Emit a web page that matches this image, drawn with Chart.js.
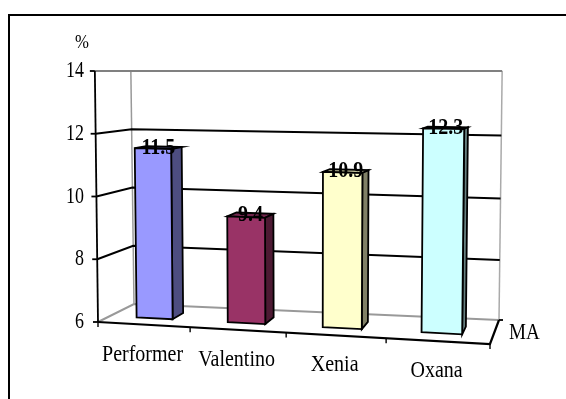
<!DOCTYPE html>
<html>
<head>
<meta charset="utf-8">
<title>MA</title>
<script src="https://cdn.jsdelivr.net/npm/chart.js@4"></script>
<style>
  html, body { margin: 0; padding: 0; background: #fff; }
  canvas { display: block; }
</style>
</head>
<body>
<canvas id="myChart" width="566" height="399"></canvas>
<script>
/***************** data *******************/
let categories = ['Performer', 'Valentino', 'Xenia', 'Oxana'];
let maValues = [11.5, 9.4, 10.9, 12.3];
let barColors = ['rgb(153, 153, 255)', 'rgb(153, 51, 102)', 'rgb(255, 255, 204)', 'rgb(204, 255, 255)'];
let sideColors = ['rgb(77, 77, 128)', 'rgb(77, 26, 51)', 'rgb(128, 128, 102)', 'rgb(102, 128, 128)'];
let topColors = ['rgb(115, 115, 191)', 'rgb(115, 38, 77)', 'rgb(191, 191, 153)', 'rgb(153, 191, 191)'];
let yMin = 6;
let yMax = 14;
let yStep = 2;
let yUnit = '%';
let depthLabel = 'MA';

/***************** 3d box the chart sits in *******************/
let floorFrontLeft = [98, 322];
let floorFrontRight = [490, 344];
let floorBackRight = [499, 320];
let floorBackLeft = [134, 304];
let ceilingY = 71;
let wallLean = 6.3;
let barFrontDepth = 1 / 3;
let barBackDepth = 2 / 3;

// turns a pixel of the flat chart area plus a depth (0 front, 1 back) into the 3d view
function project(area, px, py, depth) {
  let u0 = (px - area.left) / (area.right - area.left);
  let v0 = (area.bottom - py) / (area.bottom - area.top);
  let u = u0 - 0.08 * u0 * (1 - u0);
  let v = v0 - 0.05 * u * v0 * (1 - v0);

  let leftX = floorFrontLeft[0] + (floorBackLeft[0] - floorFrontLeft[0]) * depth;
  let leftY = floorFrontLeft[1] + (floorBackLeft[1] - floorFrontLeft[1]) * depth;
  let rightX = floorFrontRight[0] + (floorBackRight[0] - floorFrontRight[0]) * depth;
  let rightY = floorFrontRight[1] + (floorBackRight[1] - floorFrontRight[1]) * depth;

  let floorX = leftX + (rightX - leftX) * u;
  let floorY = leftY + (rightY - leftY) * u;
  return [floorX + (u - 0.5) * wallLean * v, floorY + (ceilingY - floorY) * v];
}

function line(ctx, points, color, width) {
  ctx.beginPath();
  points.forEach((p, i) => (i === 0 ? ctx.moveTo(p[0], p[1]) : ctx.lineTo(p[0], p[1])));
  ctx.strokeStyle = color;
  ctx.lineWidth = width;
  ctx.stroke();
}

function face(ctx, points, color) {
  ctx.beginPath();
  points.forEach((p, i) => (i === 0 ? ctx.moveTo(p[0], p[1]) : ctx.lineTo(p[0], p[1])));
  ctx.closePath();
  ctx.fillStyle = color;
  ctx.fill();
  ctx.strokeStyle = '#000';
  ctx.lineWidth = 1.8;
  ctx.stroke();
}

// the type in this chart is narrower than it is tall, so squeeze it sideways
function label(ctx, text, x, y, size, squeeze, align, bold) {
  ctx.save();
  ctx.translate(x, y);
  ctx.scale(squeeze, 1);
  ctx.font = (bold ? 'bold ' : '') + size + 'px "Liberation Serif"';
  ctx.textAlign = align;
  ctx.textBaseline = 'middle';
  ctx.fillStyle = '#000';
  ctx.fillText(text, 0, 0);
  ctx.restore();
}

/***************** box, bars and labels *******************/
let box3d = {
  id: 'box3d',
  beforeDatasetsDraw(chart) {
    let ctx = chart.ctx;
    let area = chart.chartArea;
    let xScale = chart.scales.x;
    let yScale = chart.scales.y;
    let meta = chart.getDatasetMeta(0);
    let at = (px, py, depth) => project(area, px, py, depth);

    ctx.save();
    ctx.lineJoin = 'miter';

    // outer frame, open on the right and at the bottom
    line(ctx, [[9, 399], [9, 15], [566, 15]], '#000', 2);

    // floor and back wall edges
    line(ctx, [at(area.left, area.bottom, 0), at(area.left, area.bottom, 1), at(area.right, area.bottom, 1)], '#999', 2);
    line(ctx, [at(area.left, area.bottom, 1), at(area.left, area.top, 1)], '#999', 1.5);
    line(ctx, [at(area.right, area.bottom, 1), at(area.right, area.top, 1)], '#aaa', 1.5);

    // gridlines run along the left wall then the back wall
    yScale.ticks.forEach(tick => {
      if (tick.value === yMin) return;
      let py = yScale.getPixelForValue(tick.value);
      let color = tick.value === yMax ? '#808080' : '#000';
      line(ctx, [at(area.left, py, 0), at(area.left, py, 1), at(area.right, py, 1)], color, 2);
    });

    // axes in front
    line(ctx, [at(area.left, area.bottom, 0), at(area.left, area.top, 0)], '#000', 1.8);
    line(ctx, [at(area.left, area.bottom, 0), at(area.right, area.bottom, 0), at(area.right, area.bottom, 1)], '#000', 2.2);

    yScale.ticks.forEach(tick => {
      let p = at(area.left, yScale.getPixelForValue(tick.value), 0);
      line(ctx, [p, [p[0] - 5, p[1]]], '#000', 1.8);
      label(ctx, String(tick.value), 84, p[1], 23, 0.78, 'right', false);
    });

    // ticks between the categories along the front edge
    let band = (area.right - area.left) / categories.length;
    for (let i = 0; i <= categories.length; i++) {
      let p = at(area.left + band * i, area.bottom, 0);
      line(ctx, [p, [p[0], p[1] + 5]], '#000', 1.4);
    }
    let backCorner = at(area.right, area.bottom, 1);
    line(ctx, [backCorner, [backCorner[0] + 4, backCorner[1]]], '#000', 1.8);

    meta.data.forEach((bar, i) => {
      let left = bar.x - bar.width / 2;
      let right = bar.x + bar.width / 2;
      face(ctx, [at(left, bar.y, barFrontDepth), at(left, bar.y, barBackDepth), at(right, bar.y, barBackDepth), at(right, bar.y, barFrontDepth)], topColors[i]);
      face(ctx, [at(right, bar.y, barFrontDepth), at(right, bar.y, barBackDepth), at(right, bar.base, barBackDepth), at(right, bar.base, barFrontDepth)], sideColors[i]);
      face(ctx, [at(left, bar.y, barFrontDepth), at(right, bar.y, barFrontDepth), at(right, bar.base, barFrontDepth), at(left, bar.base, barFrontDepth)], barColors[i]);
    });

    // value labels sit on the top of each bar
    meta.data.forEach((bar, i) => {
      let p = at(bar.x, bar.y, (barFrontDepth + barBackDepth) / 2);
      label(ctx, maValues[i].toFixed(1), p[0], p[1], 23, 0.87, 'center', true);
    });

    // category names follow the slope of the front edge
    categories.forEach((name, i) => {
      let p = at(xScale.getPixelForValue(i), area.bottom, 0);
      label(ctx, name, p[0] - 1, p[1] + 30, 23, 0.87, 'center', false);
    });

    label(ctx, depthLabel, 509, 333, 23, 0.83, 'left', false);
    label(ctx, yUnit, 82, 43, 19, 0.88, 'center', false);

    ctx.restore();
    return false;
  }
};

/***************** chart *******************/
let ctx = document.getElementById('myChart').getContext('2d');
let myChart = new Chart(ctx, {
  type: 'bar',
  data: {
    labels: categories,
    datasets: [{
      label: depthLabel,
      data: maValues,
      base: yMin,
      backgroundColor: barColors,
      categoryPercentage: 1,
      barPercentage: 0.4
    }]
  },
  options: {
    responsive: false,
    animation: false,
    layout: {
      padding: { left: 98, right: 76, top: 71, bottom: 77 }
    },
    plugins: {
      legend: { display: false },
      tooltip: { enabled: false }
    },
    scales: {
      x: { display: false },
      y: { display: false, min: yMin, max: yMax, ticks: { stepSize: yStep } }
    }
  },
  plugins: [box3d]
});
</script>
</body>
</html>
